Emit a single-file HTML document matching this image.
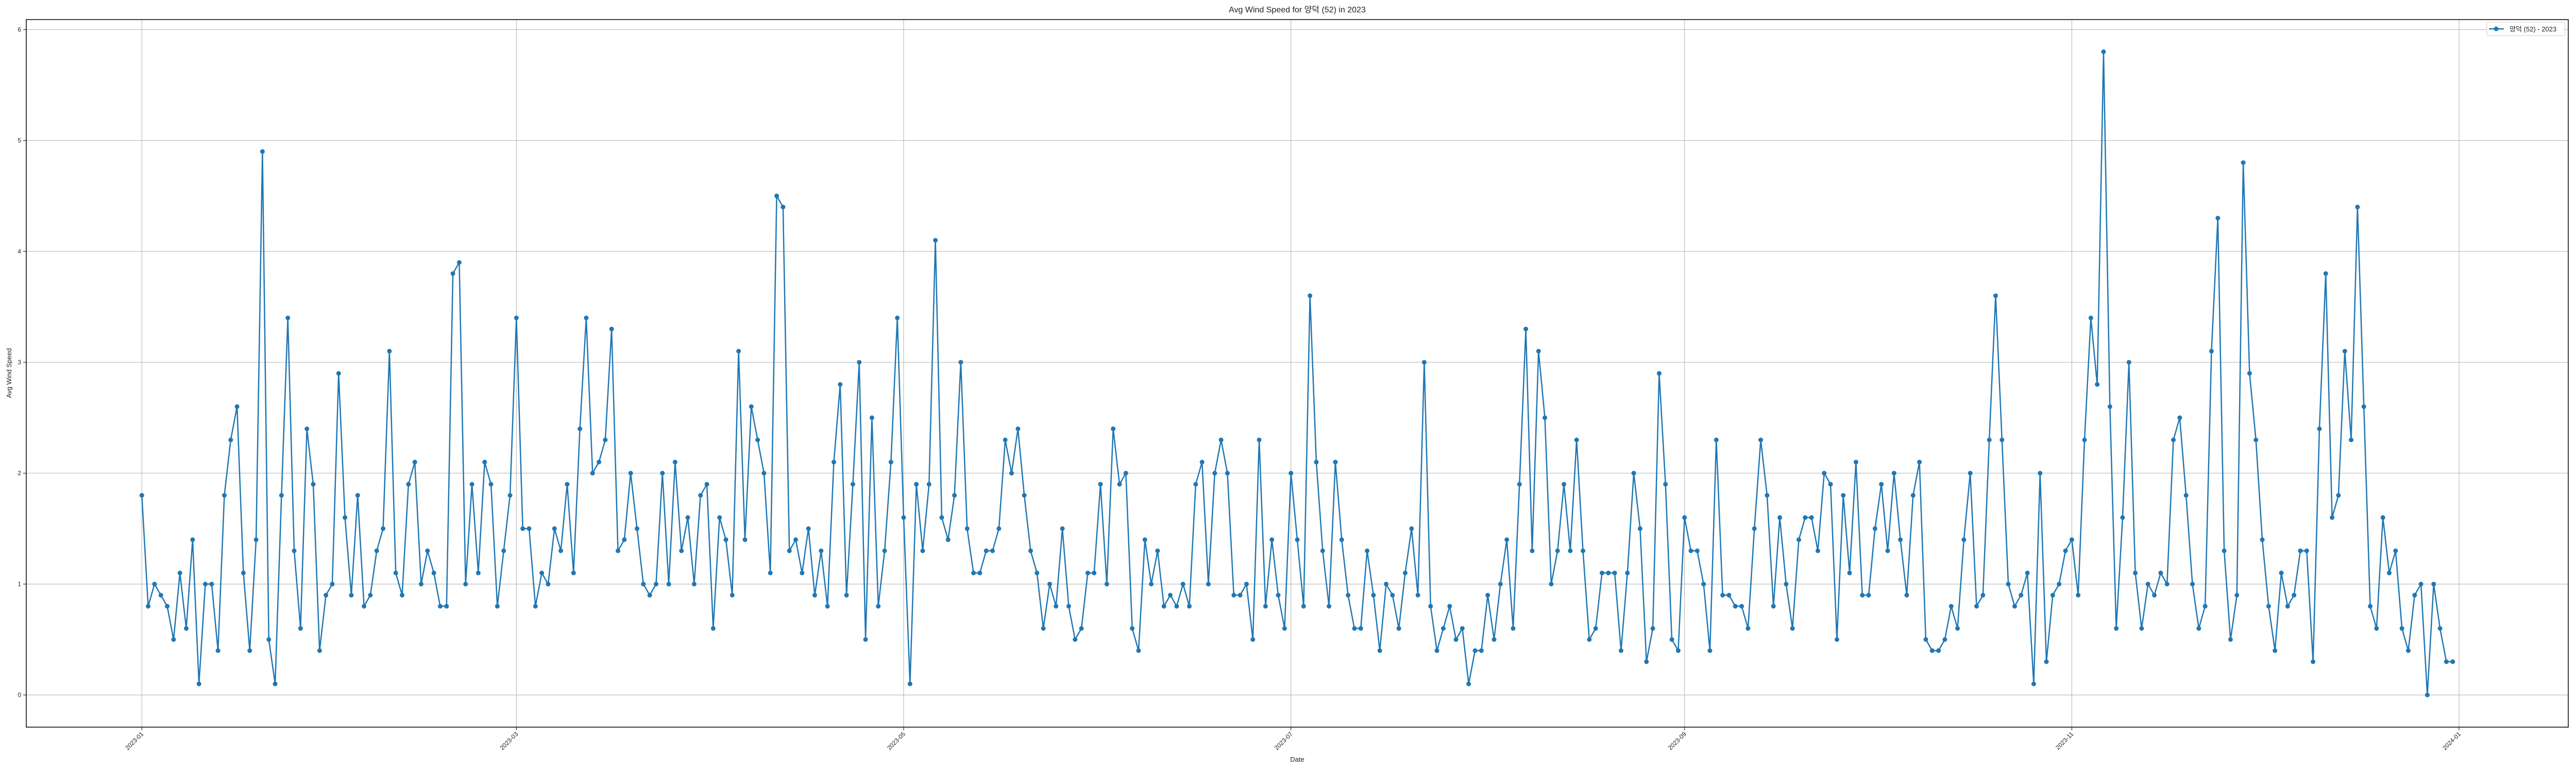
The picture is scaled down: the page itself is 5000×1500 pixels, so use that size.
<!DOCTYPE html>
<html><head><meta charset="utf-8"><title>Avg Wind Speed</title>
<style>
html,body{margin:0;padding:0;background:#fff;}
svg{display:block;font-family:"Liberation Sans","Noto Sans CJK KR",sans-serif;}
</style></head>
<body>
<svg id="chart" width="5000" height="1500" viewBox="0 0 5000 1500" xmlns="http://www.w3.org/2000/svg">
<rect x="0" y="0" width="5000" height="1500" fill="#fff"/>
<text x="2518" y="24" font-size="16" text-anchor="middle" fill="#222">Avg Wind Speed for 양덕 (52) in 2023</text>
<g id="grid"></g>
<g id="series"></g>
<rect x="51" y="38" width="4934" height="1373" fill="none" stroke="#000" stroke-width="1.5"/>
<g id="axes"></g>
<text x="2518" y="1478" font-size="13" text-anchor="middle" fill="#222">Date</text>
<text x="22" y="724" font-size="13" text-anchor="middle" fill="#222" transform="rotate(-90 22 724)">Avg Wind Speed</text>
<g>
<rect x="4827" y="43" width="151" height="26" fill="#fff" stroke="#ccc" rx="2"/>
<line x1="4831" y1="56" x2="4860" y2="56" stroke="#1f77b4" stroke-width="2.5"/>
<circle cx="4845" cy="56" r="4.5" fill="#1f77b4"/>
<text x="4871" y="61" font-size="13" fill="#222">양덕 (52) - 2023</text>
</g>
</svg>
<script>
const values = [
1.8,0.8,1.0,0.9,0.8,0.5,1.1,0.6,1.4,0.1,1.0,1.0,0.4,1.8,2.3,2.6,1.1,0.4,1.4,4.9,0.5,0.1,1.8,3.4,1.3,0.6,2.4,1.9,0.4,0.9,1.0,2.9,1.6,0.9,1.8,
0.8,0.9,1.3,1.5,3.1,1.1,0.9,1.9,2.1,1.0,1.3,1.1,0.8,0.8,3.8,3.9,1.0,1.9,1.1,2.1,1.9,0.8,1.3,1.8,3.4,1.5,1.5,0.8,1.1,1.0,1.5,1.3,1.9,1.1,2.4,3.4,2.0,2.1,2.3,3.3,1.3,
1.4,2.0,1.5,1.0,0.9,1.0,2.0,1.0,2.1,1.3,1.6,1.0,1.8,1.9,0.6,1.6,1.4,0.9,3.1,1.4,2.6,2.3,2.0,1.1,4.5,4.4,1.3,1.4,1.1,1.5,0.9,1.3,0.8,2.1,2.8,0.9,1.9,3.0,0.5,2.5,0.8,1.3,
2.1,3.4,1.6,0.1,1.9,1.3,1.9,4.1,1.6,1.4,1.8,3.0,1.5,1.1,1.1,1.3,1.3,1.5,2.3,2.0,2.4,1.8,1.3,1.1,0.6,1.0,0.8,1.5,0.8,0.5,0.6,1.1,1.1,1.9,1.0,2.4,1.9,2.0,0.6,0.4,1.4,
1.0,1.3,0.8,0.9,0.8,1.0,0.8,1.9,2.1,1.0,2.0,2.3,2.0,0.9,0.9,1.0,0.5,2.3,0.8,1.4,0.9,0.6,2.0,1.4,0.8,3.6,2.1,1.3,0.8,2.1,1.4,0.9,0.6,0.6,1.3,0.9,0.4,1.0,0.9,0.6,1.1,1.5,
0.9,3.0,0.8,0.4,0.6,0.8,0.5,0.6,0.1,0.4,0.4,0.9,0.5,1.0,1.4,0.6,1.9,3.3,1.3,3.1,2.5,1.0,1.3,1.9,1.3,2.3,1.3,0.5,0.6,1.1,1.1,1.1,0.4,1.1,2.0,1.5,0.3,0.6,2.9,1.9,0.5,
0.4,1.6,1.3,1.3,1.0,0.4,2.3,0.9,0.9,0.8,0.8,0.6,1.5,2.3,1.8,0.8,1.6,1.0,0.6,1.4,1.6,1.6,1.3,2.0,1.9,0.5,1.8,1.1,2.1,0.9,0.9,1.5,1.9,1.3,2.0,1.4,0.9,1.8,2.1,0.5,0.4,0.4,
0.5,0.8,0.6,1.4,2.0,0.8,0.9,2.3,3.6,2.3,1.0,0.8,0.9,1.1,0.1,2.0,0.3,0.9,1.0,1.3,1.4,0.9,2.3,3.4,2.8,5.8,2.6,0.6,1.6,3.0,1.1,0.6,1.0,0.9,1.1,1.0,2.3,2.5,1.8,1.0,0.6,0.8,3.1,
4.3,1.3,0.5,0.9,4.8,2.9,2.3,1.4,0.8,0.4,1.1,0.8,0.9,1.3,1.3,0.3,2.4,3.8,1.6,1.8,3.1,2.3,4.4,2.6,0.8,0.6,1.6,1.1,1.3,0.6,0.4,0.9,1.0,0.0,1.0,0.6,0.3,0.3
];
const startDate = "2023-01-01";
const xTickLabels = ["2023-01","2023-03","2023-05","2023-07","2023-09","2023-11","2024-01"];
const xTickDays = [0,59,120,181,243,304,365];
const yTicks = [0,1,2,3,4,5,6];

const NS="http://www.w3.org/2000/svg";
const L=51,R=4985,T=38,B=1411;
const n=values.length;
const dMin=-0.05*(n-1), dMax=(n-1)*1.05;
const vMax=Math.max(...values), vMin=Math.min(...values);
const vr=vMax-vMin;
const yMin=vMin-0.05*vr, yMax=vMax+0.05*vr;
function xs(d){return L+(d-dMin)/(dMax-dMin)*(R-L);}
function ys(v){return B-(v-yMin)/(yMax-yMin)*(B-T);}
function mk(tag,attrs,parent){const e=document.createElementNS(NS,tag);for(const k in attrs)e.setAttribute(k,attrs[k]);parent.appendChild(e);return e;}

const grid=document.getElementById('grid');
const axes=document.getElementById('axes');
yTicks.forEach((t,i)=>{
  const y=ys(t);
  const g=mk('line',{x1:L,x2:R,y1:y,y2:y,stroke:'#b0b0b0','stroke-width':1},grid);
  
  
  const tk=mk('line',{x1:L-6,x2:L,y1:y,y2:y,stroke:'#000','stroke-width':1},axes);
  
  
  const tx=mk('text',{x:L-10,y:y+4,'font-size':12,'text-anchor':'end',fill:'#222'},axes);
  
  
  tx.textContent=String(t);
});
xTickDays.forEach((d,i)=>{
  const x=xs(d);
  const g=mk('line',{x1:x,x2:x,y1:T,y2:B,stroke:'#b0b0b0','stroke-width':1},grid);
  
  
  const tk=mk('line',{x1:x,x2:x,y1:B,y2:B+6,stroke:'#000','stroke-width':1},axes);
  
  
  const tx=mk('text',{x:x+4,y:B+14,'font-size':12,'text-anchor':'end',fill:'#222',transform:`rotate(-45 ${x+4} ${B+14})`},axes);
  
  
  tx.textContent=xTickLabels[i];
});

const series=document.getElementById('series');
let dpath='';
values.forEach((v,i)=>{dpath+=(i?'L':'M')+xs(i).toFixed(2)+' '+ys(v).toFixed(2);});
const line=mk('path',{d:dpath,fill:'none',stroke:'#1f77b4','stroke-width':2.5,'stroke-linejoin':'round'},series);


values.forEach((v,i)=>{
  const c=mk('circle',{cx:xs(i),cy:ys(v),r:4.5,fill:'#1f77b4'},series);
  
  
});
</script>
</body></html>
